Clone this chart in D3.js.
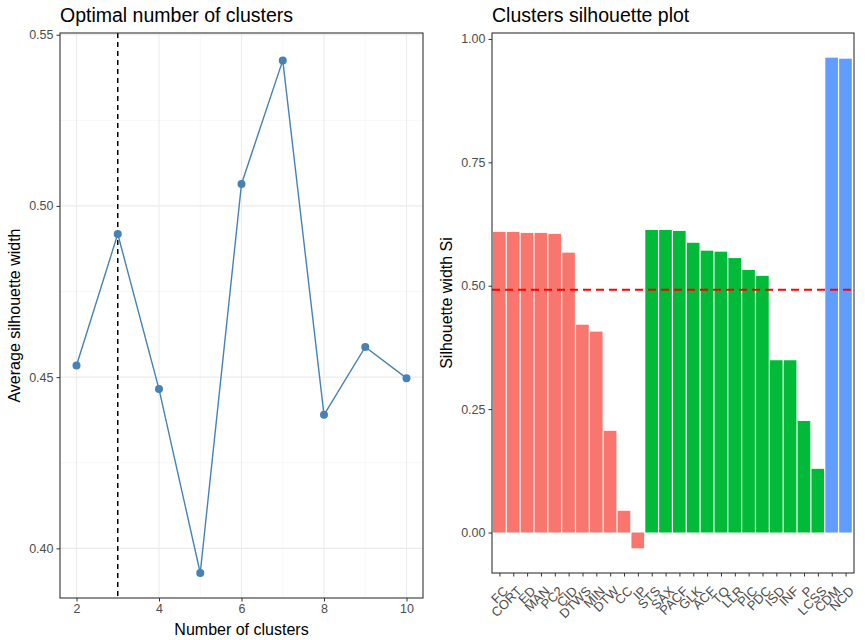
<!DOCTYPE html>
<html>
<head>
<meta charset="utf-8">
<script src="https://cdn.jsdelivr.net/npm/d3@7"></script>
<style>
  body { margin: 0; background: #fff; }
  text { font-family: "Liberation Sans", Arial, sans-serif; }
  .tick text { fill: #4d4d4d; font-size: 12.5px; }
  .tick line { stroke: #333; }
  .domain { display: none; }
</style>
</head>
<body>
<div id="chart"></div>
<script>
// left plot: average silhouette width per k
var kValues = [2, 3, 4, 5, 6, 7, 8, 9, 10];
var avgSil = [0.4534, 0.4918, 0.4465, 0.3928, 0.5064, 0.5425, 0.4390, 0.4588, 0.4497];
var optimalK = 3;

// right plot: silhouette per sample
var silLabels = ["FC", "CORT", "ED", "MAN", "PC2", "CID", "DTWS", "MIN", "DTW", "CC", "IP",
  "STS", "SAX", "PACF", "GLK", "ACF", "TQ", "LLR", "PIC", "PDC", "ISD", "INF", "P", "LCSS",
  "CDM", "NCD"];
var silValues = [0.609, 0.609, 0.607, 0.607, 0.605, 0.567, 0.421, 0.407, 0.206, 0.044, -0.032,
  0.613, 0.613, 0.611, 0.587, 0.571, 0.569, 0.556, 0.532, 0.520, 0.349, 0.349, 0.226, 0.129,
  0.962, 0.960];
var silCluster = [1, 1, 1, 1, 1, 1, 1, 1, 1, 1, 1,
  2, 2, 2, 2, 2, 2, 2, 2, 2, 2, 2, 2, 2,
  3, 3];
var clusterColors = { 1: "#F8766D", 2: "#00BA38", 3: "#619CFF" };
var silMean = 0.4918;

var svg = d3.select("#chart").append("svg")
  .attr("width", 865)
  .attr("height", 640);

// ===== Left panel =====
var L = { left: 60, right: 423, top: 33, bottom: 598 };

var xK = d3.scaleLinear().domain([1.6, 10.4]).range([L.left, L.right]);
var yK = d3.scaleLinear().domain([0.3855, 0.5505]).range([L.bottom, L.top]);

var gL = svg.append("g");

// grid
gL.selectAll(".xminor").data([3, 5, 7, 9]).enter().append("line")
  .attr("x1", d => xK(d)).attr("x2", d => xK(d))
  .attr("y1", L.top).attr("y2", L.bottom)
  .attr("stroke", "#f2f2f2").attr("stroke-width", 0.6);
gL.selectAll(".yminor").data([0.425, 0.475, 0.525]).enter().append("line")
  .attr("y1", d => yK(d)).attr("y2", d => yK(d))
  .attr("x1", L.left).attr("x2", L.right)
  .attr("stroke", "#f2f2f2").attr("stroke-width", 0.6);
gL.selectAll(".xmajor").data([2, 4, 6, 8, 10]).enter().append("line")
  .attr("x1", d => xK(d)).attr("x2", d => xK(d))
  .attr("y1", L.top).attr("y2", L.bottom)
  .attr("stroke", "#ebebeb").attr("stroke-width", 1.1);
gL.selectAll(".ymajor").data([0.40, 0.45, 0.50, 0.55]).enter().append("line")
  .attr("y1", d => yK(d)).attr("y2", d => yK(d))
  .attr("x1", L.left).attr("x2", L.right)
  .attr("stroke", "#ebebeb").attr("stroke-width", 1.1);

// optimal k line
gL.append("line")
  .attr("x1", xK(optimalK)).attr("x2", xK(optimalK))
  .attr("y1", L.top).attr("y2", L.bottom)
  .attr("stroke", "#000").attr("stroke-width", 1.5)
  .attr("stroke-dasharray", "5,4");

var line = d3.line().x((d, i) => xK(kValues[i])).y(d => yK(d));
gL.append("path").datum(avgSil)
  .attr("d", line)
  .attr("fill", "none").attr("stroke", "steelblue").attr("stroke-width", 1.4);
gL.selectAll("circle").data(avgSil).enter().append("circle")
  .attr("cx", (d, i) => xK(kValues[i])).attr("cy", d => yK(d))
  .attr("r", 4).attr("fill", "steelblue");

gL.append("rect")
  .attr("x", L.left).attr("y", L.top)
  .attr("width", L.right - L.left).attr("height", L.bottom - L.top)
  .attr("fill", "none").attr("stroke", "#333").attr("stroke-width", 1.1);

gL.append("g").attr("transform", `translate(0,${L.bottom})`)
  .call(d3.axisBottom(xK).tickValues([2, 4, 6, 8, 10]).tickSize(3.5).tickPadding(3));
gL.append("g").attr("transform", `translate(${L.left},0)`)
  .call(d3.axisLeft(yK).tickValues([0.40, 0.45, 0.50, 0.55]).tickFormat(d3.format(".2f")).tickSize(3.5).tickPadding(3));

gL.append("text").attr("x", L.left).attr("y", 22)
  .attr("font-size", "19.5px").attr("fill", "#000").text("Optimal number of clusters");
gL.append("text").attr("x", (L.left + L.right) / 2).attr("y", 635)
  .attr("text-anchor", "middle").attr("font-size", "16px").attr("fill", "#000")
  .text("Number of clusters");
gL.append("text")
  .attr("transform", `translate(20,${(L.top + L.bottom) / 2}) rotate(-90)`)
  .attr("text-anchor", "middle").attr("font-size", "16px").attr("fill", "#000")
  .text("Average silhouette width");

// ===== Right panel =====
var R = { left: 492, right: 854, top: 33, bottom: 573 };

var xS = d3.scaleBand().domain(d3.range(silLabels.length))
  .range([R.left + 1, R.right - 1]).padding(0);
var yS = d3.scaleLinear().domain([-0.082, 1.012]).range([R.bottom, R.top]);

var gR = svg.append("g");

gR.selectAll("rect.bar").data(silValues).enter().append("rect")
  .attr("class", "bar")
  .attr("x", (d, i) => xS(i))
  .attr("width", xS.bandwidth() - 1.2)
  .attr("y", d => yS(Math.max(0, d)))
  .attr("height", d => Math.abs(yS(d) - yS(0)))
  .attr("fill", (d, i) => clusterColors[silCluster[i]]);

gR.append("line")
  .attr("x1", R.left).attr("x2", R.right)
  .attr("y1", yS(silMean)).attr("y2", yS(silMean))
  .attr("stroke", "#ff0000").attr("stroke-width", 2)
  .attr("stroke-dasharray", "8,5");

gR.append("rect")
  .attr("x", R.left).attr("y", R.top)
  .attr("width", R.right - R.left).attr("height", R.bottom - R.top)
  .attr("fill", "none").attr("stroke", "#333").attr("stroke-width", 1.1);

var xAxisR = gR.append("g").attr("transform", `translate(0,${R.bottom})`)
  .call(d3.axisBottom(xS).tickFormat(i => silLabels[i]).tickSize(3.5).tickPadding(2));
xAxisR.selectAll(".tick text")
  .attr("text-anchor", "end")
  .attr("dy", "0")
  .style("font-size", "13px")
  .attr("transform", "translate(5,15) rotate(-45)");

gR.append("g").attr("transform", `translate(${R.left},0)`)
  .call(d3.axisLeft(yS).tickValues([0, 0.25, 0.5, 0.75, 1]).tickFormat(d3.format(".2f")).tickSize(3.5).tickPadding(3));

gR.append("text").attr("x", R.left).attr("y", 22)
  .attr("font-size", "19.5px").attr("fill", "#000").text("Clusters silhouette plot");
gR.append("text")
  .attr("transform", `translate(452,${(R.top + R.bottom) / 2}) rotate(-90)`)
  .attr("text-anchor", "middle").attr("font-size", "16px").attr("fill", "#000")
  .text("Silhouette width Si");
</script>
</body>
</html>
